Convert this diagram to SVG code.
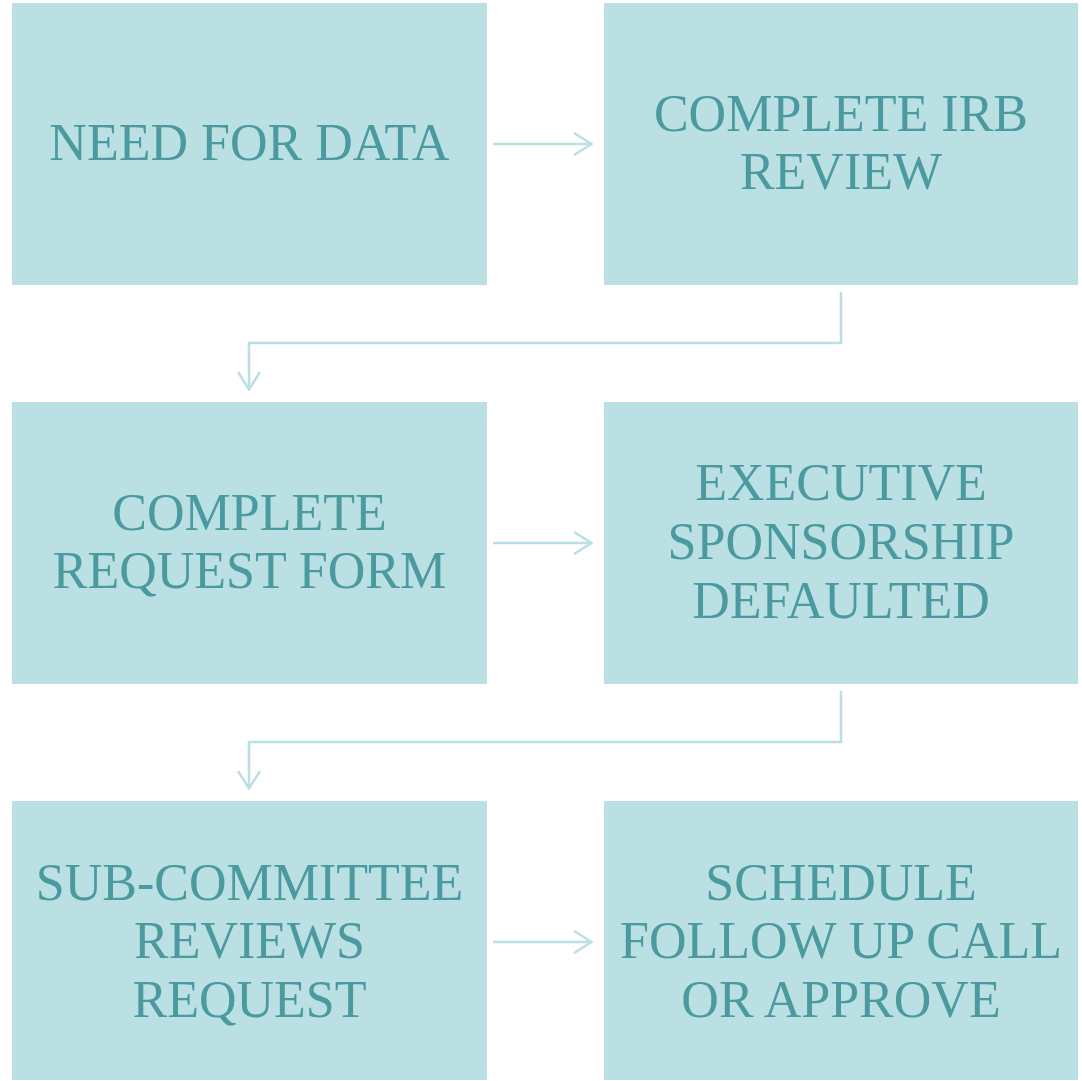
<svg xmlns="http://www.w3.org/2000/svg" width="1082" height="1081" viewBox="0 0 1082 1081">
<defs>
<style>
.box{fill:#BAE0E3}
.t{font-family:"Liberation Serif","DejaVu Serif",serif;font-size:52px;fill:#4A9AA0;text-anchor:middle}
.c{fill:none;stroke:#BAE0E3;stroke-width:2.5}
</style>
<marker id="ah" viewBox="0 0 20 24" refX="19" refY="12" markerWidth="20" markerHeight="24" markerUnits="userSpaceOnUse" orient="auto">
<path d="M1,1 L18.5,12 L1,23" fill="none" stroke="#BAE0E3" stroke-width="2.5"/>
</marker>
</defs>
<rect width="1082" height="1081" fill="#fff"/>
<g id="n1"><rect class="box" x="12" y="3" width="475" height="282"/><text class="t" x="249.5" y="160">NEED FOR DATA</text></g>
<g id="n2"><rect class="box" x="604" y="3" width="474" height="282"/><text class="t" x="841" y="131">COMPLETE IRB</text><text class="t" x="841" y="189">REVIEW</text></g>
<g id="n3"><rect class="box" x="12" y="402" width="475" height="282"/><text class="t" x="249.5" y="530">COMPLETE</text><text class="t" x="249.5" y="588">REQUEST FORM</text></g>
<g id="n4"><rect class="box" x="604" y="402" width="474" height="282"/><text class="t" x="841" y="500">EXECUTIVE</text><text class="t" x="841" y="559">SPONSORSHIP</text><text class="t" x="841" y="618">DEFAULTED</text></g>
<g id="n5"><rect class="box" x="12" y="801" width="475" height="279"/><text class="t" x="249.5" y="900">SUB-COMMITTEE</text><text class="t" x="249.5" y="958">REVIEWS</text><text class="t" x="249.5" y="1017">REQUEST</text></g>
<g id="n6"><rect class="box" x="604" y="801" width="474" height="279"/><text class="t" x="841" y="900">SCHEDULE</text><text class="t" x="841" y="958">FOLLOW UP CALL</text><text class="t" x="841" y="1017">OR APPROVE</text></g>
<g id="connectors">
<path class="c" d="M493,144 H592" marker-end="url(#ah)"/>
<path class="c" d="M841,292 V343 H249 V390" marker-end="url(#ah)"/>
<path class="c" d="M493,543 H592" marker-end="url(#ah)"/>
<path class="c" d="M841,691 V742 H249 V789" marker-end="url(#ah)"/>
<path class="c" d="M493,942 H592" marker-end="url(#ah)"/>
</g>
</svg>
